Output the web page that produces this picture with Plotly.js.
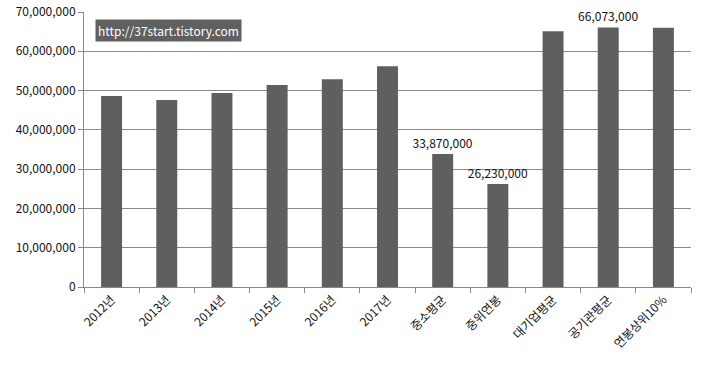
<!DOCTYPE html>
<html>
<head>
<meta charset="utf-8">
<script src="https://cdn.plot.ly/plotly-3.0.1.min.js"></script>
<style>html,body{margin:0;padding:0;background:#fff;}#chart{width:702px;height:371px;}</style>
</head>
<body>
<div id="chart"></div>
<script>
const categories = ["2012년","2013년","2014년","2015년","2016년","2017년","중소평균","중위연봉","대기업평균","공기관평균","연봉상위10%"];
const salaries = [48600000, 47600000, 49400000, 51400000, 52900000, 56200000, 33870000, 26230000, 65100000, 66073000, 66000000];
const labelled = ["중소평균","중위연봉","공기관평균"];
const tickValues = [0,10000000,20000000,30000000,40000000,50000000,60000000,70000000];
const watermark = "http://37start.tistory.com";

const fontFamily = "'Noto Sans CJK KR', 'DejaVu Sans', sans-serif";
const labels = categories.map((c,i)=> labelled.includes(c) ? salaries[i].toLocaleString('en-US') : "");

const trace = {
  type: "bar",
  x: categories,
  y: salaries,
  marker: {color: "#5f5f5f"},
  text: labels,
  textposition: "outside",
  constraintext: "none",
  cliponaxis: false,
  textfont: {family: fontFamily, size: 12, color: "#111"},
  hoverinfo: "x+y"
};

const layout = {
  width: 702, height: 371,
  margin: {l: 84, r: 11, t: 12, b: 84},
  paper_bgcolor: "#fff", plot_bgcolor: "#fff",
  bargap: 0.62,
  showlegend: false,
  font: {family: fontFamily, size: 12, color: "#111"},
  xaxis: {
    type: "category",
    tickangle: -45,
    tickson: "boundaries",
    ticks: "outside", ticklen: 5, tickcolor: "#888",
    showline: true, linecolor: "#888", linewidth: 1,
    showgrid: false,
    tickfont: {family: fontFamily, size: 12, color: "#111"}
  },
  yaxis: {
    range: [0, 70000000],
    tickvals: tickValues,
    tickformat: ",d",
    ticks: "outside", ticklen: 5, tickcolor: "#888",
    showline: true, linecolor: "#888", linewidth: 1,
    gridcolor: "#8a8a8a", gridwidth: 1,
    zeroline: false,
    tickfont: {family: fontFamily, size: 12, color: "#111"}
  },
  annotations: [{
    xref: "paper", yref: "paper",
    x: 0.018, y: 0.975, xanchor: "left", yanchor: "top",
    text: watermark, showarrow: false,
    bgcolor: "#606060", font: {color: "#fff", size: 12, family: fontFamily},
    borderpad: 2
  }]
};

Plotly.newPlot("chart", [trace], layout, {staticPlot: true, displayModeBar: false});
</script>
</body>
</html>
